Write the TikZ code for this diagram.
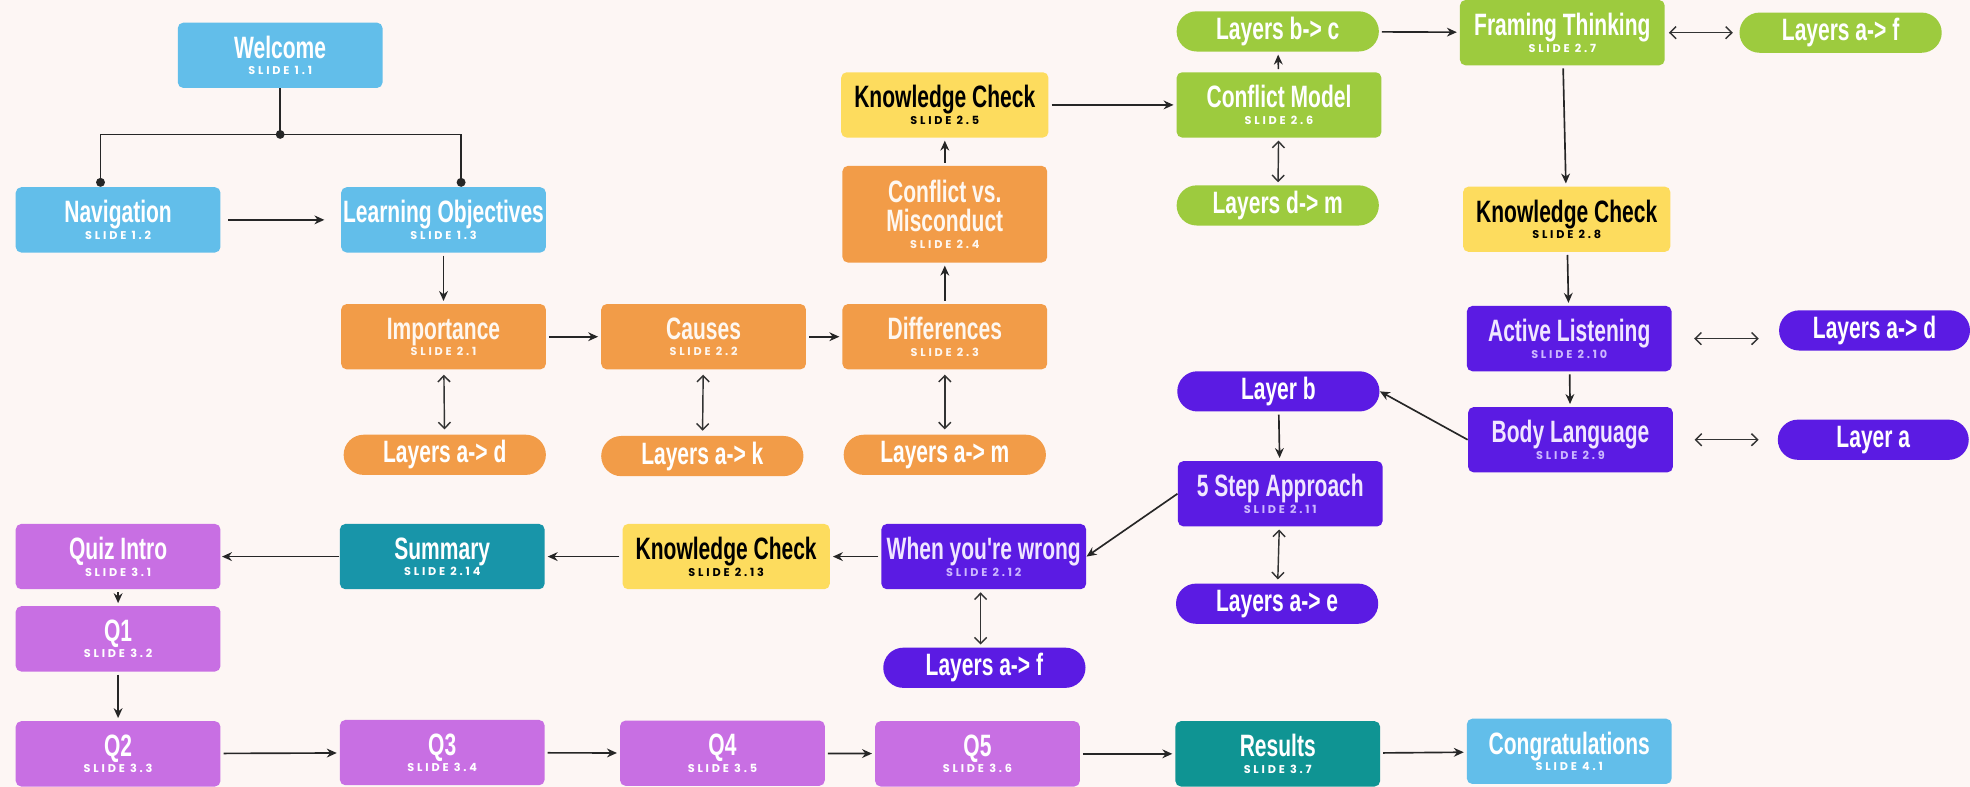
\documentclass[tikz,border=0pt]{standalone}
\usepackage{fontspec}
\usetikzlibrary{arrows.meta}
\newfontfamily\ttlfont[FakeStretch=0.68]{Liberation Sans}
\newfontfamily\slidefont[LetterSpace=25]{Poppins}
\definecolor{bg}{HTML}{FDF6F4}
\definecolor{cblue}{HTML}{62BEEA}
\definecolor{corange}{HTML}{F29C48}
\definecolor{cyellow}{HTML}{FDDC5E}
\definecolor{cgreen}{HTML}{9DCB3E}
\definecolor{cviolet}{HTML}{5B1BE3}
\definecolor{corchid}{HTML}{C86FE3}
\definecolor{cteal}{HTML}{1895A9}
\definecolor{cteal2}{HTML}{0F9493}
\definecolor{lavtext}{HTML}{F0E6FF}
\definecolor{lavsub}{HTML}{CDB8FF}
% title line plus a small "SLIDE x.y" line
\newcommand\card[2]{#1\\[-6pt]{\slidefont\bfseries\fontsize{5.1}{5.5}\selectfont #2}}
\newcommand\vcard[2]{#1\\[-6pt]{\color{lavsub}\slidefont\bfseries\fontsize{5.1}{5.5}\selectfont #2}}
\tikzset{
  ttl/.style={font=\ttlfont\bfseries\fontsize{14}{13.5}\selectfont},
  card/.style={ttl, rounded corners=2.5pt, minimum width=3.26cm, minimum height=1.04cm,
    inner sep=0pt, align=center, text=white},
  pill/.style={ttl, rounded corners=0.32cm, minimum width=3.22cm, minimum height=0.64cm,
    inner sep=0pt, text=white},
  bluecard/.style={card, fill=cblue},
  orangecard/.style={card, fill=corange, text=white!92!corange},
  yellowcard/.style={card, fill=cyellow, text=black, minimum width=3.3cm},
  greencard/.style={card, fill=cgreen},
  violetcard/.style={card, fill=cviolet, text=lavtext},
  orchidcard/.style={card, fill=corchid},
  tealcard/.style={card, fill=cteal},
  resultcard/.style={card, fill=cteal2},
  orangepill/.style={pill, fill=corange},
  greenpill/.style={pill, fill=cgreen},
  violetpill/.style={pill, fill=cviolet},
  wire/.style={line width=0.75pt, black!85},
  link/.style={wire, -{Stealth[length=4.5pt,width=4pt]}, shorten <=1.2pt, shorten >=1.2pt},
  twoway/.style={line width=0.65pt, black!80,
    {Straight Barb[length=2.8pt,width=5.5pt]}-{Straight Barb[length=2.8pt,width=5.5pt]},
    shorten <=2.2pt, shorten >=2.2pt},
}
\begin{document}
\begin{tikzpicture}[x=0.02cm, y=-0.02cm]
\fill[bg] (0,0) rectangle (1568,626);
\useasboundingbox (0,0) rectangle (1568,626);

% opening slides
\node[bluecard] (wel) at (223,44) {\card{Welcome}{SLIDE 1.1}};
\node[bluecard] (nav) at (94,175) {\card{Navigation}{SLIDE 1.2}};
\node[bluecard] (lo) at (353,175) {\card{Learning Objectives}{SLIDE 1.3}};

% section 2, first part
\node[orangecard] (imp) at (353,268) {\card{Importance}{SLIDE 2.1}};
\node[orangecard] (cau) at (560,268) {\card{Causes}{SLIDE 2.2}};
\node[orangecard] (dif) at (752,268) {\card{Differences}{SLIDE 2.3}};
\node[orangecard, minimum height=1.54cm] (cvm) at (752,170.5) {\card{Conflict vs.\\Misconduct}{SLIDE 2.4}};
\node[orangepill] (lad) at (354,362) {Layers a-> d};
\node[orangepill] (lak) at (559,363) {Layers a-> k};
\node[orangepill] (lam) at (752,362) {Layers a-> m};

\node[yellowcard] (kca) at (752,83.5) {\card{Knowledge Check}{SLIDE 2.5}};
\node[greencard] (cm) at (1018,83.5) {\card{Conflict Model}{SLIDE 2.6}};
\node[greenpill] (lbc) at (1017,25) {Layers b-> c};
\node[greenpill] (ldm) at (1017,163.5) {Layers d-> m};
\node[greencard] (ft) at (1243.5,26) {\card{Framing Thinking}{SLIDE 2.7}};
\node[greenpill] (lafa) at (1465,26) {Layers a-> f};

\node[yellowcard] (kcb) at (1247,174.5) {\card{Knowledge Check}{SLIDE 2.8}};
\node[violetcard] (al) at (1249,269.5) {\vcard{Active Listening}{SLIDE 2.10}};
\node[violetpill, minimum width=3.04cm] (ladb) at (1492,263) {Layers a-> d};
\node[violetcard] (bl) at (1250,350) {\vcard{Body Language}{SLIDE 2.9}};
\node[violetpill, minimum width=3.04cm] (la) at (1491,350) {Layer a};
\node[violetpill] (lb) at (1017.5,311.5) {Layer b};
\node[violetcard] (sfive) at (1019,393) {\vcard{5 Step Approach}{SLIDE 2.11}};
\node[violetpill] (lae) at (1016.5,480.5) {Layers a-> e};
\node[violetcard] (wyw) at (783,443) {\vcard{When you're wrong}{SLIDE 2.12}};
\node[violetpill] (lafb) at (783.5,531.5) {Layers a-> f};

\node[yellowcard] (kcc) at (578,443) {\card{Knowledge Check}{SLIDE 2.13}};
\node[tealcard] (sum) at (352,443) {\card{Summary}{SLIDE 2.14}};

% quiz
\node[orchidcard] (qi) at (94,443) {\card{Quiz Intro}{SLIDE 3.1}};
\node[orchidcard] (qa) at (94,508.5) {\card{Q1}{SLIDE 3.2}};
\node[orchidcard] (qb) at (94,600) {\card{Q2}{SLIDE 3.3}};
\node[orchidcard] (qc) at (352,599) {\card{Q3}{SLIDE 3.4}};
\node[orchidcard] (qd) at (575,599.5) {\card{Q4}{SLIDE 3.5}};
\node[orchidcard] (qe) at (778,600) {\card{Q5}{SLIDE 3.6}};
\node[resultcard] (res) at (1017,600) {\card{Results}{SLIDE 3.7}};
\node[bluecard] (con) at (1249,598) {\card{Congratulations}{SLIDE 4.1}};

% branching from the welcome slide
\coordinate (jn) at (223,107);
\coordinate (jl) at (80,107);
\coordinate (jr) at (367,107);
\draw[wire] (wel.south) -- (jn);
\draw[wire, {Circle[length=4pt]}-{Circle[length=4pt]}] (jl |- nav.north) -- (jl) -- (jr) -- (jr |- lo.north);
\fill[black!85] (jn) circle (2pt);

% flow
\draw[link, shorten <=3.4pt, shorten >=7.4pt] (nav) -- (lo);
\draw[link] (lo) -- (imp);
\draw[link] (imp) -- (cau);
\draw[link] (cau) -- (dif);
\draw[link] (dif) -- (cvm);
\draw[link] (cvm) -- (kca);
\draw[link] (kca) -- (cm);
\draw[link] (cm) -- (lbc);
\draw[link] (lbc) -- (ft);
\draw[link] (ft) -- (kcb);
\draw[link] (kcb) -- (al);
\draw[link] (al) -- (bl);
\draw[link, shorten <=0pt, shorten >=0pt] (bl.west) -- (lb.east);
\draw[link] (lb) -- (sfive);
\draw[link, shorten <=0pt, shorten >=0pt] (sfive.west) -- (wyw.east);
\draw[link] (wyw) -- (kcc);
\draw[link] (kcc) -- (sum);
\draw[link, shorten <=0pt, shorten >=0.5pt] (sum) -- (qi);
\draw[link] (qi) -- (qa);
\draw[link] (qa) -- (qb);
\draw[link] (qb) -- (qc);
\draw[link] (qc) -- (qd);
\draw[link] (qd) -- (qe);
\draw[link] (qe) -- (res);
\draw[link] (res) -- (con);

% layer links
\draw[twoway] (imp) -- (lad);
\draw[twoway] (cau) -- (lak);
\draw[twoway] (dif) -- (lam);
\draw[twoway, shorten <=1.2pt, shorten >=1.2pt] (cm) -- (ldm);
\draw[twoway, shorten <=1.7pt, shorten >=2.8pt] (ft) -- (lafa);
\draw[twoway, shorten <=10pt, shorten >=9pt] (al.east) -- (ladb.west |- al.east);
\draw[twoway, shorten <=9.6pt, shorten >=8.5pt] (bl) -- (la);
\draw[twoway, shorten <=1.2pt, shorten >=1.7pt] (sfive) -- (lae);
\draw[twoway, shorten <=1.2pt, shorten >=1.2pt] (wyw.south -| lafb.north) ++(-3,0) coordinate (wa) (wa) -- (wa |- lafb.north);
\end{tikzpicture}
\end{document}
